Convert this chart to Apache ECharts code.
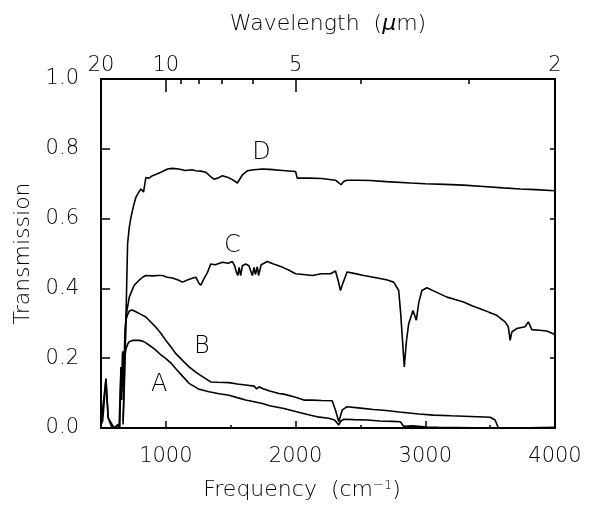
<!DOCTYPE html>
<html>
<head>
<meta charset="utf-8">
<script src="https://cdn.jsdelivr.net/npm/echarts@6.0.0/dist/echarts.min.js"></script>
<style>
  html, body { margin: 0; padding: 0; background: #fff; }
  #main { width: 596px; height: 507px; }
</style>
</head>
<body>
<div id="main"></div>
<script>
// frequency axis (cm^-1)
const freqLabels = [1000, 2000, 3000, 4000];
const freqMajorTicks = [1000, 2000, 3000];
const freqMinorTicks = [1500, 2500, 3500];

// wavelength axis (um), placed at the frequency where the picture puts them
const wlLabelText = ['20', '10', '5', '2'];
const wlLabelPos = [500, 1000, 2000, 4000];
const wlMajorTicks = [1000, 2000];
const wlMinorUm = [9, 8, 7, 6, 4, 3];

// curve labels: [name, frequency, transmission]
const curveTags = [
  ['A', 949, 0.123],
  ['B', 1277, 0.232],
  ['C', 1513, 0.523],
  ['D', 1738, 0.79]
];

// [frequency, transmission]
const curveA = [
  [500, 0.01], [513, 0.02], [530, 0.1], [538, 0.142], [546, 0.09], [555, 0.03], [564, 0.02],
  [580, 0.005], [600, 0.0], [630, 0.01], [645, 0.0], [654, 0.175], [660, 0.08], [667, 0.214],
  [672, 0.12], [679, 0.19], [692, 0.225], [705, 0.24], [718, 0.247], [744, 0.251], [795, 0.251],
  [821, 0.249], [846, 0.244], [880, 0.235], [923, 0.223], [960, 0.21], [1000, 0.199],
  [1040, 0.186], [1077, 0.17], [1130, 0.148], [1179, 0.128], [1250, 0.112], [1333, 0.104],
  [1410, 0.098], [1487, 0.094], [1550, 0.087], [1615, 0.08], [1680, 0.075], [1744, 0.07],
  [1800, 0.064], [1910, 0.056], [2000, 0.047], [2100, 0.038], [2167, 0.032], [2256, 0.028],
  [2300, 0.023], [2333, 0.009], [2350, 0.02], [2372, 0.025], [2450, 0.024], [2551, 0.023],
  [2650, 0.02], [2750, 0.019], [2808, 0.018], [2833, 0.005], [2900, 0.006], [3013, 0.003],
  [3100, 0.002], [3500, 0.0], [4000, 0.0]
];

const curveB = [
  [500, 0.01], [538, 0.14], [555, 0.03], [600, 0.0], [640, 0.01], [654, 0.175], [660, 0.1],
  [667, 0.22], [675, 0.15], [685, 0.28], [692, 0.309], [705, 0.325], [718, 0.335], [740, 0.338],
  [769, 0.333], [800, 0.327], [846, 0.318], [880, 0.305], [923, 0.289], [960, 0.272],
  [1000, 0.251], [1040, 0.232], [1077, 0.213], [1130, 0.193], [1179, 0.175], [1230, 0.16],
  [1282, 0.147], [1346, 0.132], [1400, 0.131], [1487, 0.13], [1550, 0.126], [1615, 0.123],
  [1680, 0.12], [1700, 0.112], [1720, 0.118], [1744, 0.113], [1800, 0.106], [1872, 0.099],
  [1910, 0.097], [2000, 0.088], [2064, 0.08], [2128, 0.08], [2200, 0.079], [2282, 0.078],
  [2308, 0.051], [2333, 0.018], [2359, 0.051], [2397, 0.061], [2500, 0.057], [2600, 0.053],
  [2679, 0.051], [2800, 0.046], [2950, 0.04], [3064, 0.037], [3200, 0.035], [3350, 0.033],
  [3500, 0.031], [3538, 0.023], [3564, 0.0], [3700, 0.0], [4000, 0.002]
];

const curveC = [
  [670, 0.02], [680, 0.15], [692, 0.318], [705, 0.347], [718, 0.375], [740, 0.395], [756, 0.409],
  [790, 0.422], [821, 0.432], [846, 0.437], [900, 0.436], [936, 0.437], [974, 0.437],
  [1010, 0.432], [1050, 0.43], [1090, 0.425], [1128, 0.418], [1170, 0.425], [1210, 0.43],
  [1231, 0.432], [1255, 0.415], [1269, 0.409], [1290, 0.425], [1320, 0.445], [1346, 0.47],
  [1380, 0.468], [1436, 0.475], [1480, 0.472], [1513, 0.477], [1530, 0.465], [1545, 0.445],
  [1555, 0.437], [1565, 0.46], [1577, 0.437], [1590, 0.465], [1615, 0.47], [1640, 0.465],
  [1667, 0.437], [1680, 0.46], [1690, 0.44], [1705, 0.462], [1715, 0.437], [1735, 0.468],
  [1782, 0.477], [1830, 0.47], [1897, 0.461], [1950, 0.452], [2000, 0.442], [2060, 0.44],
  [2128, 0.437], [2200, 0.442], [2269, 0.442], [2308, 0.45], [2330, 0.42], [2346, 0.394],
  [2360, 0.41], [2372, 0.413], [2397, 0.447], [2450, 0.443], [2526, 0.437], [2600, 0.432],
  [2700, 0.425], [2756, 0.418], [2795, 0.394], [2810, 0.33], [2821, 0.27], [2838, 0.175],
  [2855, 0.25], [2872, 0.299], [2905, 0.337], [2931, 0.309], [2950, 0.36], [2974, 0.394],
  [3013, 0.402], [3080, 0.39], [3167, 0.375], [3230, 0.368], [3295, 0.361], [3360, 0.35],
  [3423, 0.342], [3490, 0.332], [3551, 0.323], [3615, 0.304], [3640, 0.29], [3654, 0.251],
  [3667, 0.275], [3679, 0.27], [3705, 0.285], [3769, 0.29], [3795, 0.304], [3821, 0.282],
  [3880, 0.28], [3936, 0.278], [4000, 0.268]
];

const curveD = [
  [670, 0.01], [680, 0.12], [692, 0.309], [705, 0.528], [718, 0.575], [731, 0.604], [750, 0.635],
  [769, 0.661], [790, 0.675], [808, 0.685], [828, 0.676], [846, 0.718], [870, 0.716],
  [897, 0.723], [930, 0.728], [962, 0.733], [1013, 0.742], [1051, 0.744], [1100, 0.742],
  [1150, 0.738], [1200, 0.74], [1231, 0.737], [1270, 0.736], [1308, 0.733], [1340, 0.722],
  [1371, 0.713], [1400, 0.716], [1436, 0.723], [1480, 0.718], [1520, 0.71], [1551, 0.702],
  [1590, 0.725], [1628, 0.737], [1680, 0.74], [1744, 0.742], [1800, 0.741], [1900, 0.738],
  [2000, 0.735], [2013, 0.716], [2100, 0.716], [2200, 0.715], [2308, 0.71], [2335, 0.702],
  [2351, 0.697], [2370, 0.706], [2397, 0.71], [2480, 0.71], [2577, 0.709], [2700, 0.706],
  [2885, 0.702], [3000, 0.7], [3150, 0.698], [3295, 0.696], [3450, 0.692], [3600, 0.688],
  [3731, 0.685], [3850, 0.683], [4000, 0.68]
];

const font = "'DejaVu Sans', 'Liberation Sans', sans-serif";
const ink = '#000';
const fw = 200;

const chartDom = document.getElementById('main');
const myChart = echarts.init(chartDom);

const wlLabelMap = {};
wlLabelPos.forEach((p, i) => { wlLabelMap[p] = wlLabelText[i]; });
const wlMinorTicks = wlMinorUm.map(um => 10000 / um);

const hiddenBits = {
  axisLabel: { show: false },
  splitLine: { show: false },
  axisLine: { show: false }
};

const curves = { A: curveA, B: curveB, C: curveC, D: curveD };

const txt = (size) => ({ fontSize: size, fontFamily: font, fontWeight: fw, color: ink });

const option = {
  animation: false,
  backgroundColor: '#fff',
  textStyle: { fontFamily: font, color: ink },
  grid: { left: 101, right: 41, top: 79, bottom: 79, containLabel: false, outerBoundsMode: 'none' },
  xAxis: [
    {
      type: 'value', position: 'bottom', min: 500, max: 4000,
      name: 'Frequency  (cm{sup|−1})',
      nameLocation: 'middle', nameGap: 51,
      nameTextStyle: Object.assign(txt(22), {
        padding: [0, 52, 0, 0],
        rich: { sup: Object.assign(txt(13), { verticalAlign: 'top', padding: [0, 0, 8, 0] }) }
      }),
      axisLine: { lineStyle: { color: ink, width: 2 } },
      axisTick: { inside: true, length: 7, customValues: freqMajorTicks, lineStyle: { color: ink, width: 1.5 } },
      axisLabel: Object.assign(txt(21), { customValues: freqLabels, margin: 18, formatter: v => String(v) }),
      splitLine: { show: false }
    },
    Object.assign({
      type: 'value', position: 'bottom', min: 500, max: 4000,
      axisTick: { inside: true, length: 3, customValues: freqMinorTicks, lineStyle: { color: ink, width: 1.5 } }
    }, hiddenBits),
    {
      type: 'value', position: 'top', min: 500, max: 4000,
      name: 'Wavelength  ({i|μ}m)',
      nameLocation: 'middle', nameGap: 44,
      nameTextStyle: Object.assign(txt(22), {
        rich: { i: Object.assign(txt(22), { fontStyle: 'italic' }) }
      }),
      axisLine: { lineStyle: { color: ink, width: 2 } },
      axisTick: { inside: true, length: 13, customValues: wlMajorTicks, lineStyle: { color: ink, width: 1.5 } },
      axisLabel: Object.assign(txt(21), {
        customValues: wlLabelPos, margin: 3,
        showMinLabel: true, showMaxLabel: true,
        formatter: v => wlLabelMap[v] || ''
      }),
      splitLine: { show: false }
    },
    Object.assign({
      type: 'value', position: 'top', min: 500, max: 4000,
      axisTick: { inside: true, length: 5, customValues: wlMinorTicks, lineStyle: { color: ink, width: 1.5 } }
    }, hiddenBits)
  ],
  yAxis: [
    {
      type: 'value', position: 'left', min: 0, max: 1, interval: 0.2,
      name: 'Transmission', nameLocation: 'middle', nameGap: 62,
      nameTextStyle: txt(22),
      axisLine: { show: true, lineStyle: { color: ink, width: 2 } },
      axisTick: { show: true, inside: true, length: 9, lineStyle: { color: ink, width: 1.5 } },
      axisLabel: Object.assign(txt(21), { margin: 22, formatter: v => v.toFixed(1) }),
      splitLine: { show: false }
    },
    {
      type: 'value', position: 'right', min: 0, max: 1, interval: 0.2,
      axisLine: { show: true, lineStyle: { color: ink, width: 2 } },
      axisTick: { show: true, inside: true, length: 5, lineStyle: { color: ink, width: 1.5 } },
      axisLabel: { show: false },
      splitLine: { show: false }
    }
  ],
  series: curveTags.map(([tag, fx, ty]) => ({
    name: tag,
    type: 'line',
    xAxisIndex: 0,
    yAxisIndex: 0,
    data: curves[tag],
    showSymbol: false,
    silent: true,
    lineStyle: { color: ink, width: 1.6 },
    markPoint: {
      symbol: 'circle',
      symbolSize: 0,
      silent: true,
      label: Object.assign(txt(24), { show: true, position: 'inside', formatter: tag }),
      data: [{ coord: [fx, ty] }]
    }
  }))
};

myChart.setOption(option);
</script>
</body>
</html>
